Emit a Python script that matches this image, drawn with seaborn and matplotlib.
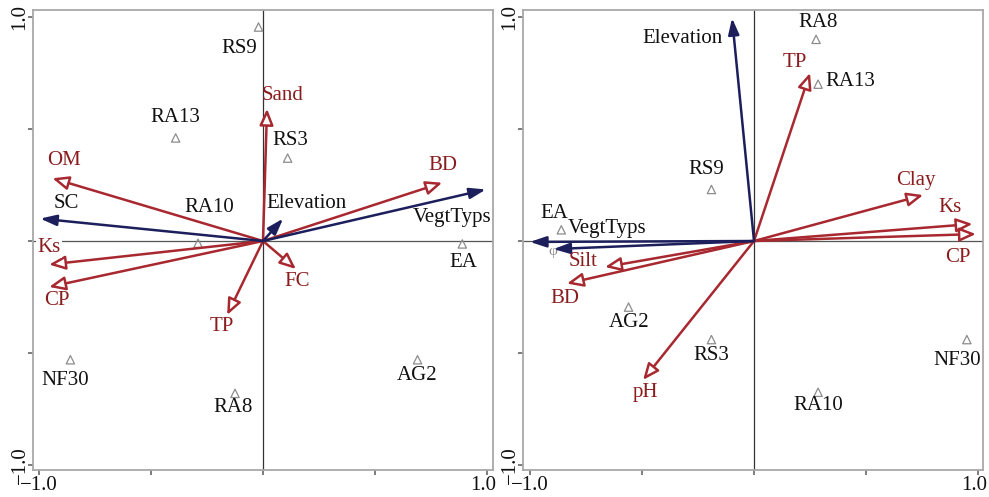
import matplotlib
matplotlib.use('Agg')
import matplotlib.pyplot as plt
import matplotlib.transforms as mtransforms
import seaborn as sns
import pandas as pd

# ---------------- data: left panel ----------------
left_sites = ['RS9', 'RA13', 'RS3', 'RA10', 'EA', 'NF30', 'RA8', 'AG2']
left_site_x = [-0.02, -0.39, 0.11, -0.29, 0.89, -0.86, -0.125, 0.69]
left_site_y = [0.955, 0.46, 0.37, -0.01, -0.013, -0.53, -0.68, -0.53]

left_soil = ['Sand', 'OM', 'BD', 'Ks', 'CP', 'TP', 'FC']
left_soil_x = [0.018, -0.94, 0.80, -0.955, -0.955, -0.16, 0.147]
left_soil_y = [0.59, 0.28, 0.26, -0.105, -0.205, -0.33, -0.125]

left_env = ['SC', 'Elevation', 'VegtTyps']
left_env_x = [-0.995, 0.09, 0.995]
left_env_y = [0.10, 0.10, 0.23]

# ---------------- data: right panel ----------------
right_sites = ['RA8', 'RA13', 'RS9', 'EA', 'AG2', 'RS3', 'RA10', 'NF30']
right_site_x = [0.277, 0.286, -0.19, -0.86, -0.56, -0.19, 0.286, 0.95]
right_site_y = [0.90, 0.70, 0.23, 0.05, -0.295, -0.44, -0.675, -0.44]

right_soil = ['TP', 'Clay', 'Ks', 'CP', 'Silt', 'BD', 'pH']
right_soil_x = [0.25, 0.755, 0.975, 0.99, -0.665, -0.835, -0.495]
right_soil_y = [0.75, 0.205, 0.076, 0.031, -0.116, -0.19, -0.62]

right_env = ['Elevation', 'VegtTyps', '']
right_env_x = [-0.098, -1.0, -0.895]
right_env_y = [0.995, -0.004, -0.036]

tick_values = [-1.0, -0.5, 0.0, 0.5, 1.0]
tick_labels = ['\u22121.0', '', '', '', '1.0']

# ---------------- label offsets (pixels) ----------------
left_site_off = [(-19, -21), (0, 20), (3, 18), (11, 36), (1, -19), (-5, -21), (-2, -14), (0, -16)]
left_soil_off = [(16, 13), (12, 18), (1, 17), (0, 17), (8, -14), (-5, -12), (1, -12)]
left_env_off = [(26, 15), (23, 15), (-34, -28)]
right_site_off = [(2, 17), (32, 3), (-5, 20), (-7, 16), (1, -15), (0, -16), (0, -13), (-10, -21)]
right_soil_off = [(-15, 10), (-7, 15), (-22, 16), (-18, -23), (-22, 5), (-2, -15), (2, -13)]
right_env_off = [(-50, -20), (77, 13), (0, 0)]

sns.set_style('white')
plt.rcParams['font.family'] = ['Liberation Serif', 'DejaVu Serif']

RED = '#A82830'
RED_TXT = '#8A1C1E'
NAVY = '#1C1F5C'
GRAY = '#8C8C8C'
FS = 15

fig = plt.figure(figsize=(9.89, 4.97), dpi=100)
ax_l = fig.add_axes([33 / 989, 27 / 497, 460 / 989, 460 / 497])
ax_r = fig.add_axes([523 / 989, 27 / 497, 460 / 989, 460 / 497])


def draw_panel(ax, xlim, sites, sx, sy, s_off, soil, vx, vy, v_off, env, ex, ey, e_off, bbox_labels=()):
    ax.set_xlim(*xlim)
    ax.set_ylim(-1.022, 1.031)
    ax.axhline(0, color='#555555', lw=0.9, zorder=1)
    ax.axvline(0, color='#333333', lw=0.9, zorder=1)
    df = pd.DataFrame({'x': sx, 'y': sy, 'site': sites})
    sns.scatterplot(data=df, x='x', y='y', marker='^', s=36, facecolors='none',
                    edgecolor=GRAY, linewidth=0.9, ax=ax, zorder=3, legend=False)
    for name, x, y, off in zip(sites, sx, sy, s_off):
        ax.annotate(name, (x, y), xytext=off, textcoords='offset pixels',
                    ha='center', va='center', fontsize=FS, color='#111111', zorder=6)
    for name, x, y, off in zip(soil, vx, vy, v_off):
        ax.annotate('', xy=(x, y), xytext=(0, 0),
                    arrowprops=dict(arrowstyle='-|>,head_length=0.75,head_width=0.32',
                                    ec=RED, fc='white', lw=1.8, shrinkA=0, shrinkB=0,
                                    mutation_scale=13), zorder=4)
        kw = {}
        if name in bbox_labels:
            kw['bbox'] = dict(boxstyle='square,pad=0.05', fc='white', ec='none')
        ax.annotate(name, (x, y), xytext=off, textcoords='offset pixels',
                    ha='center', va='center', fontsize=FS, color=RED_TXT, zorder=7, **kw)
    for name, x, y, off in zip(env, ex, ey, e_off):
        ax.annotate('', xy=(x, y), xytext=(0, 0),
                    arrowprops=dict(arrowstyle='-|>,head_length=0.75,head_width=0.25',
                                    ec=NAVY, fc=NAVY, lw=1.8, shrinkA=0, shrinkB=0,
                                    mutation_scale=13), zorder=5)
        if name:
            ax.annotate(name, (x, y), xytext=off, textcoords='offset pixels',
                        ha='center', va='center', fontsize=FS, color='#111111', zorder=7)
    ax.set_xticks(tick_values)
    ax.set_yticks(tick_values)
    ax.set_xticklabels(tick_labels, fontsize=FS)
    ax.set_yticklabels(tick_labels, fontsize=FS, rotation=90, va='center')
    ax.tick_params(axis='both', direction='out', length=3.5, width=1.2, color='#666666',
                   left=True, bottom=True, labelcolor='#111111')
    ax.tick_params(axis='x', pad=1)
    ax.tick_params(axis='y', pad=-1)
    # nudge the rightmost x tick label slightly left so it stays inside the figure
    last = ax.get_xticklabels()[-1]
    last.set_transform(last.get_transform() +
                       mtransforms.ScaledTranslation(-4 / 100, 0, fig.dpi_scale_trans))
    ax.set_xlabel('')
    ax.set_ylabel('')
    for sp in ax.spines.values():
        sp.set_color('#A8A8A8')
        sp.set_linewidth(1.3)


draw_panel(ax_l, (-1.027, 1.027), left_sites, left_site_x, left_site_y, left_site_off,
           left_soil, left_soil_x, left_soil_y, left_soil_off,
           left_env, left_env_x, left_env_y, left_env_off, bbox_labels=('Ks',))
draw_panel(ax_r, (-1.031, 1.022), right_sites, right_site_x, right_site_y, right_site_off,
           right_soil, right_soil_x, right_soil_y, right_soil_off,
           right_env, right_env_x, right_env_y, right_env_off)

ax_r.text(-0.90, -0.045, '\u03c6', color=GRAY, fontsize=11, ha='center', va='center', zorder=4)

fig.savefig('out.png', dpi=100)
